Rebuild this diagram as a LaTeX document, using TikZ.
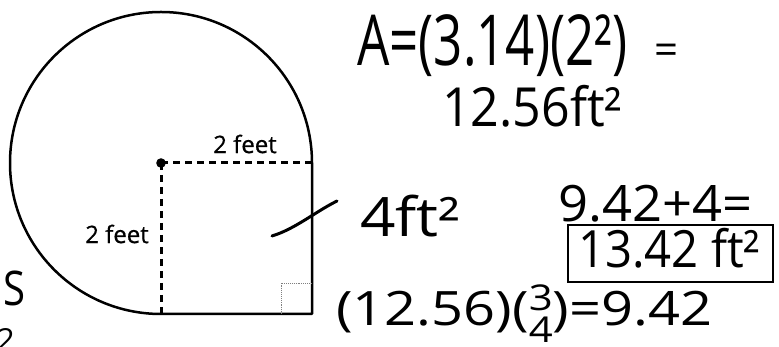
\documentclass[tikz,border=0pt]{standalone}
\usepackage{fontspec}
\setmainfont{Open Sans}
\newfontfamily\handfont{Open Sans}
\newcommand{\hw}[3]{\resizebox*{#1}{#2}{\handfont #3}}
\newcommand{\myfrac}[2]{\rlap{\raisebox{3.2pt}{\scalebox{0.75}{#1}}}\raisebox{-3.6pt}{\scalebox{0.75}{#2}}}
\tikzset{
  hand/.style={inner sep=0pt, anchor=west},
  dimlabel/.style={font=\fontsize{24}{26}\selectfont\addfontfeature{FakeBold=0.6}, inner sep=0pt},
  outline/.style={line width=2.5pt, line join=round},
  radiusline/.style={line width=3pt, dash pattern=on 7pt off 5pt},
  handline/.style={line width=3pt, line cap=round},
}
\begin{document}
\begin{tikzpicture}[x=1pt,y=1pt]
\useasboundingbox (0,0) rectangle (779,347);
\fill[white] (0,0) rectangle (779,347);
\clip (0,0) rectangle (779,347);
% figure
\coordinate (C) at (161,184);
\coordinate (R) at (312,184);
\coordinate (B) at (161,33);
\coordinate (K) at (312,33);
\draw[outline] (R) arc[start angle=0,end angle=270,radius=151] -- (K) -- cycle;
\draw[radiusline] (C) -- (R);
\draw[radiusline] (C) -- (B);
\fill (C) circle (4.8pt);
\draw[black!50, line width=0.9pt, densely dotted] (281,33) -- (281,64) -- (312,64);
\node[dimlabel] (lh) at (245,203) {2 feet};
\node[dimlabel] (lv) at (117,113) {2 feet};
% handwritten work
\node[hand] (t1) at (357,301) {\hw{270pt}{62pt}{A=(3.14)(2²)}};
\node[hand] (t1b) at (654,293) {\resizebox{24pt}{!}{\handfont =}};
\node[hand] (t2) at (442,241) {\hw{180pt}{42pt}{12.56ft²}};
\coordinate (p1) at (272,111);
\coordinate (p2) at (337,146);
\draw[handline] (p1) .. controls (295,118) and (315,135) .. (p2);
\node[hand] (t3) at (360,131) {\hw{100pt}{42pt}{4ft²}};
\node[hand] (t5) at (558,143.5) {\hw{194pt}{37pt}{9.42+4=}};
\node[draw, line width=2.6pt, minimum width=205pt, minimum height=57pt, inner sep=0pt] (box) at (670.5,93.5) {};
\node[hand] (t6) at (578,99) {\hw{182pt}{40pt}{13.42 ft²}};
\node[hand] (t7) at (336,33) {\hw{376pt}{58pt}{(12.56)(\myfrac{3}{4})=9.42}};
\node[hand] (s1) at (3,59) {\hw{22pt}{35pt}{S}};
\node[hand, anchor=east] (s2) at (15,7) {\hw{18pt}{22pt}{2}};
\end{tikzpicture}
\end{document}
